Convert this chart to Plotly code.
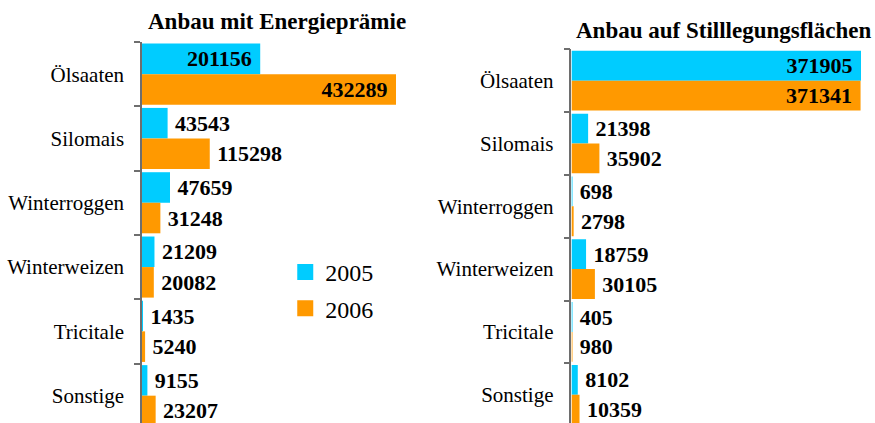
import plotly.graph_objects as go

categories = ["Ölsaaten", "Silomais", "Winterroggen", "Winterweizen", "Tricitale", "Sonstige"]
energie_2005 = [201156, 43543, 47659, 21209, 1435, 9155]
energie_2006 = [432289, 115298, 31248, 20082, 5240, 23207]
still_2005 = [371905, 21398, 698, 18759, 405, 8102]
still_2006 = [371341, 35902, 2798, 30105, 980, 10359]
years = ["2005", "2006"]
titles = ["Anbau mit Energieprämie", "Anbau auf Stilllegungsflächen"]

C05 = "#00CCFF"
C06 = "#FF9900"
FONT = "Liberation Serif"

def labels(vals, vmax):
    pos = ["inside" if v > 0.3 * vmax else "outside" for v in vals]
    txt = [f"{v}\u00a0" if p == "inside" else f"\u2009{v}" for v, p in zip(vals, pos)]
    return pos, txt

fig = go.Figure()
panels = [(energie_2005, energie_2006, "x", "y"), (still_2005, still_2006, "x2", "y2")]
for a, b, xa, ya in panels:
    vmax = max(a + b)
    for vals, col in ((a, C05), (b, C06)):
        pos, txt = labels(vals, vmax)
        fig.add_trace(go.Bar(
            x=vals, y=categories, orientation="h", marker=dict(color=col, line=dict(width=0)),
            text=txt, textposition=pos, insidetextanchor="end", textangle=0,
            constraintext="none", cliponaxis=False,
            textfont=dict(family=FONT, size=22, color="black", weight="bold"),
            showlegend=False, xaxis=xa, yaxis=ya, hoverinfo="skip"))

for yr, col in zip(years, (C05, C06)):
    fig.add_trace(go.Scatter(x=[None], y=[None], mode="markers", name=yr, legendgroup=yr,
                             marker=dict(symbol="square", size=17, color=col, line=dict(width=0)),
                             xaxis="x", yaxis="y"))

axis_y = dict(type="category", categoryorder="array", categoryarray=categories,
              showline=True, linecolor="#6e6e6e", linewidth=1.5, ticks="outside",
              tickson="boundaries", ticklen=6, tickcolor="#6e6e6e", tickwidth=1.5,
              ticklabelstandoff=12,
              showgrid=False, zeroline=False, automargin=False,
              tickfont=dict(family=FONT, size=21, color="black"))

fig.update_layout(
    width=875, height=423, margin=dict(l=0, r=0, t=0, b=0),
    plot_bgcolor="white", paper_bgcolor="white",
    barmode="group", bargap=0.05, bargroupgap=0,
    xaxis=dict(domain=[0.1623, 0.4526], range=[0, max(energie_2005 + energie_2006)], visible=False, anchor="y"),
    xaxis2=dict(domain=[0.6531, 0.984], range=[0, max(still_2005 + still_2006)], visible=False, anchor="y2"),
    yaxis=dict(domain=[0, 0.9007], range=[5.425, -0.5], anchor="x", **axis_y),
    yaxis2=dict(domain=[0, 0.8835], range=[5.45, -0.5], anchor="x2", **axis_y),
    legend=dict(x=0.326, y=0.409, xanchor="left", yanchor="top", tracegroupgap=2,
                font=dict(family=FONT, size=24, color="black"), bgcolor="rgba(0,0,0,0)"),
    annotations=[
        dict(text=titles[0], x=0.3166, y=0.948, xref="paper", yref="paper", showarrow=False,
             xanchor="center", yanchor="middle", font=dict(family=FONT, size=23, color="black", weight="bold")),
        dict(text=titles[1], x=0.8263, y=0.929, xref="paper", yref="paper", showarrow=False,
             xanchor="center", yanchor="middle", font=dict(family=FONT, size=23, color="black", weight="bold")),
    ],
)

fig.write_html("out.html", config={"displayModeBar": False},
               post_script="document.body.style.margin='0';document.body.style.overflow='hidden';")
